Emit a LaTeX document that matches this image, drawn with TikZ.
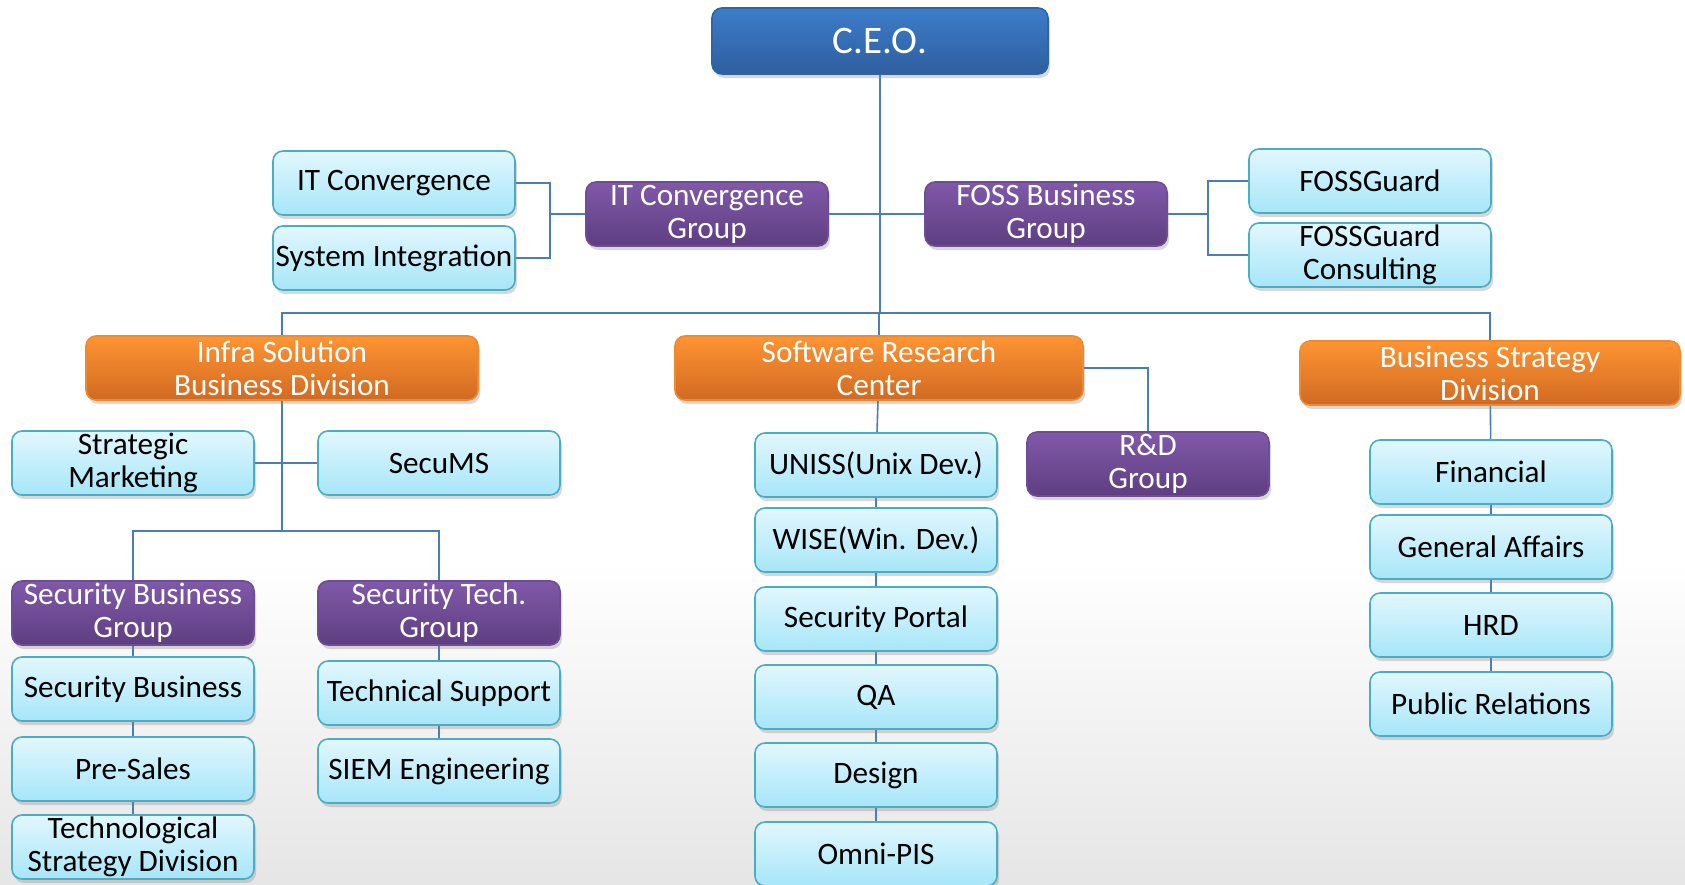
\documentclass[tikz,border=0pt]{standalone}
\usepackage{fontspec}
\setmainfont{Carlito}
\usetikzlibrary{shadows,backgrounds,positioning}
\definecolor{linkblue}{HTML}{4A7EBB}
\definecolor{leaftop}{HTML}{E2F7FD}
\definecolor{leafbot}{HTML}{A6E6F9}
\definecolor{leafline}{HTML}{4BACC6}
\definecolor{grptop}{HTML}{8059A9}
\definecolor{grpbot}{HTML}{5E3E80}
\definecolor{grpline}{HTML}{6F4D96}
\definecolor{divtop}{HTML}{FF9432}
\definecolor{divbot}{HTML}{D06A22}
\definecolor{divline}{HTML}{F08A2E}
\definecolor{ceotop}{HTML}{3C7DCA}
\definecolor{ceobot}{HTML}{2E5E9E}
\pgfdeclarelayer{floor}
\pgfsetlayers{floor,background,main}

\begin{document}
\begin{tikzpicture}[x=0.5pt,y=-0.5pt,
box/.style={rounded corners=5pt,line width=0.8pt,minimum height=32pt,inner sep=0pt,align=center,
  drop shadow={opacity=0.3,shadow xshift=1pt,shadow yshift=-2pt}},
leaf/.style={box,draw=leafline,top color=leaftop,bottom color=leafbot,minimum width=121pt,
  text=black,font=\fontsize{15.6}{16.5}\selectfont},
grp/.style={box,draw=grpline,top color=grptop,bottom color=grpbot,minimum width=121pt,
  text=white,font=\fontsize{15.6}{16.5}\selectfont},
div/.style={box,draw=divline,top color=divtop,bottom color=divbot,
  text=white,font=\fontsize{15.6}{16.5}\selectfont},
ceo/.style={box,draw=ceotop!80!black,top color=ceotop,bottom color=ceobot,minimum width=168pt,
  minimum height=33pt,text=white,font=\fontsize{19.5}{21}\selectfont},
link/.style={draw=linkblue,line width=0.8pt}]
    \useasboundingbox (0,0) rectangle (1685,884);
    \clip (0,0) rectangle (1685,884);
    \begin{pgfonlayer}{floor}
        \fill[white] (0,0) rectangle (1685,884);
        \shade[top color=white,bottom color=black!10] (0,560) rectangle (1685,884);
    \end{pgfonlayer}

    % top
    \node[ceo] (ceo) at (880,41) {C.E.O.};
    \node[grp] (itgrp) at (707,214) {IT Convergence\\Group};
    \node[leaf] (itconv) at (394,183) {IT Convergence};
    \node[leaf] (sysint) at (394,258) {System Integration};
    \node[grp] (fossgrp) at (1046,214) {FOSS Business\\Group};
    \node[leaf] (fossguard) at (1370,181) {FOSSGuard};
    \node[leaf] (fosscons) at (1370,255) {FOSSGuard\\Consulting};

    % divisions
    \node[div,minimum width=196pt] (infra) at (282,368) {Infra Solution\\Business Division};
    \node[div,minimum width=204pt] (src) at (879,368) {Software Research\\Center};
    \node[div,minimum width=190pt] (bsd) at (1490,373) {Business Strategy\\Division};

    % infra solution
    \node[leaf] (stratmkt) at (133,463) {Strategic\\Marketing};
    \node[leaf] (secums) at (439,463) {SecuMS};
    \node[grp] (secbizgrp) at (133,613) {Security Business\\Group};
    \node[grp] (sectechgrp) at (439,613) {Security Tech.\\Group};
    \node[leaf] (secbiz) at (133,689) {Security Business};
    \node[leaf] (presales) at (133,769) {Pre-Sales};
    \node[leaf] (techstrat) at (133,847) {Technological\\Strategy Division};
    \node[leaf] (techsup) at (439,693) {Technical Support};
    \node[leaf] (siem) at (439,771) {SIEM Engineering};

    % software research center
    \node[leaf] (uniss) at (876,465) {UNISS(Unix Dev.)};
    \node[leaf] (wise) at (876,540) {WISE(Win. Dev.)};
    \node[leaf] (secportal) at (876,619) {Security Portal};
    \node[leaf] (qa) at (876,697) {QA};
    \node[leaf] (design) at (876,775) {Design};
    \node[leaf] (omnipis) at (876,854) {Omni-PIS};
    \node[grp] (rnd) at (1148,464) {R\&D\\Group};

    % business strategy
    \node[leaf] (financial) at (1491,472) {Financial};
    \node[leaf] (genaff) at (1491,547) {General Affairs};
    \node[leaf] (hrd) at (1491,625) {HRD};
    \node[leaf] (pubrel) at (1491,704) {Public Relations};

    \coordinate (bus) at (880,313);
    \coordinate (itbr) at (550,214);
    \coordinate (fossbr) at (1208,214);
    \coordinate (infrabus) at (282,531);

    \begin{pgfonlayer}{background}
        \draw[link] (ceo.south) -- (bus);
        \draw[link] (itgrp.east) -- (itgrp.east -| ceo.south);
        \draw[link] (fossgrp.west) -- (fossgrp.west -| ceo.south);
        \draw[link] (itconv.east) -| (itbr) |- (sysint.east);
        \draw[link] (itgrp.west) -- (itbr);
        \draw[link] (fossguard.west) -| (fossbr) |- (fosscons.west);
        \draw[link] (fossgrp.east) -- (fossbr);
        \draw[link] (infra.north) |- (bus) -| (bsd.north);
        \draw[link] (src.north) -- (src.north |- bus);
        % infra
        \draw[link] (infra.south) -- (infrabus);
        \draw[link] (stratmkt.east) -- (secums.west);
        \draw[link] (secbizgrp.north) |- (infrabus) -| (sectechgrp.north);
        \draw[link] (secbizgrp) -- (secbiz) -- (presales) -- (techstrat);
        \draw[link] (sectechgrp) -- (techsup) -- (siem);
        % research
        \draw[link] (src) -- (uniss) -- (wise) -- (secportal) -- (qa) -- (design) -- (omnipis);
        \draw[link] (src.east) -| (rnd.north);
        % strategy
        \draw[link] (bsd) -- (financial) -- (genaff) -- (hrd) -- (pubrel);
    \end{pgfonlayer}
\end{tikzpicture}
\end{document}
